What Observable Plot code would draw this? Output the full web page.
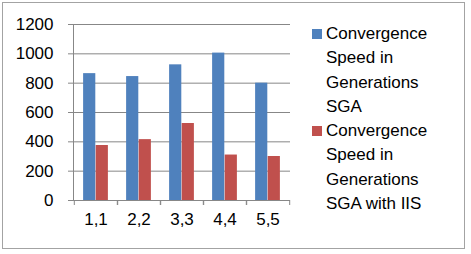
<!DOCTYPE html>
<html>
<head>
<meta charset="utf-8">
<script src="https://cdn.jsdelivr.net/npm/d3@7"></script>
<script src="https://cdn.jsdelivr.net/npm/@observablehq/plot@0.6"></script>
<style>
  html, body { margin: 0; padding: 0; background: #fff; }
  #wrap { position: relative; width: 471px; height: 254px; overflow: hidden; font-family: "Liberation Sans", Arial, sans-serif; }
  #border { position: absolute; left: 2px; top: 2px; width: 463px; height: 247px; box-sizing: border-box; border: 1.5px solid #a3a3a3; pointer-events: none; }
  #chart { position: absolute; left: 0; top: 0; }
  #legend { position: absolute; left: 312px; top: 22px; font-size: 17px; line-height: 24.3px; color: #000; }
  .item { display: flex; align-items: flex-start; }
  .sw { width: 10px; height: 10px; margin-top: 7px; margin-right: 4px; flex: none; }
  .lab { width: 112px; }
</style>
</head>
<body>
<div id="wrap">
  <div id="chart"></div>
  <div id="legend"></div>
  <div id="border"></div>
</div>
<script>
const categories = ["1,1", "2,2", "3,3", "4,4", "5,5"];
const seriesNames = ["Convergence Speed in Generations SGA", "Convergence Speed in Generations SGA with IIS"];
const sgaValues = [865, 845, 925, 1005, 800];
const iisValues = [375, 415, 525, 310, 300];
const yTicks = [0, 200, 400, 600, 800, 1000, 1200];
const colors = ["#4F81BD", "#C0504D"];

const W = 471, H = 254, mL = 73, mR = 181, mT = 24, mB = 54;
const band = (W - mL - mR) / categories.length;
const barW = band * 0.29;
const gray = "#878787";

const rows = categories.map((c, i) => ({cat: c, sga: sgaValues[i], iis: iisValues[i]}));

const chart = Plot.plot({
  width: W, height: H,
  marginLeft: mL, marginRight: mR, marginTop: mT, marginBottom: mB,
  style: {fontFamily: "Liberation Sans, Arial, sans-serif", fontSize: "17px", color: "#000", background: "transparent"},
  x: {domain: categories, padding: 0, label: null},
  y: {domain: [0, 1200], label: null},
  marks: [
    Plot.gridY(yTicks, {stroke: gray, strokeOpacity: 1}),
    Plot.axisY(yTicks, {tickSize: 5, tickPadding: 15, stroke: gray, fontSize: 17, label: null, tickFormat: d => String(d)}),
    Plot.barY(rows, {x: "cat", y: "sga", fill: colors[0], insetLeft: band / 2 - barW, insetRight: band / 2}),
    Plot.barY(rows, {x: "cat", y: "iis", fill: colors[1], insetLeft: band / 2, insetRight: band / 2 - barW}),
    Plot.ruleY([0], {stroke: gray}),
    Plot.frame({anchor: "left", stroke: gray}),
    Plot.axisX({tickSize: 0, tickPadding: 12, fontSize: 17, label: null}),
    Plot.axisX({text: null, tickSize: 5, dx: -band / 2, stroke: gray, label: null}),
    Plot.axisX({text: null, tickSize: 5, dx: band / 2, stroke: gray, label: null})
  ]
});
document.getElementById("chart").appendChild(chart);

const legend = document.getElementById("legend");
seriesNames.forEach((name, i) => {
  const item = document.createElement("div");
  item.className = "item";
  const sw = document.createElement("div");
  sw.className = "sw";
  sw.style.background = colors[i];
  const lab = document.createElement("div");
  lab.className = "lab";
  lab.textContent = name;
  item.appendChild(sw);
  item.appendChild(lab);
  legend.appendChild(item);
});
</script>
</body>
</html>
